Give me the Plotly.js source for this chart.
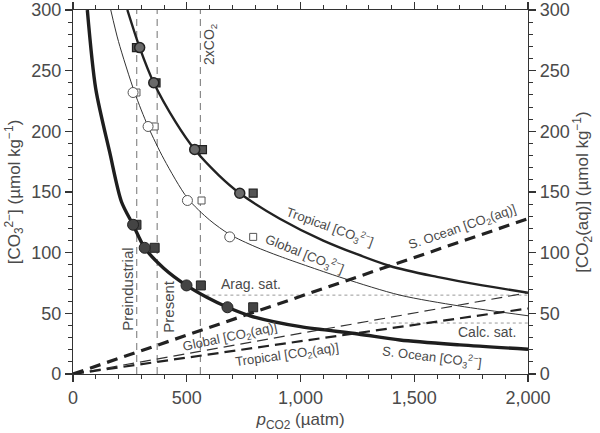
<!DOCTYPE html>
<html>
<head>
<meta charset="utf-8">
<script src="https://cdn.plot.ly/plotly-3.0.1.min.js"></script>
<style>html,body{margin:0;padding:0;background:#fff;}#chart{width:600px;height:433px;}</style>
</head>
<body>
<div id="chart"></div>
<script>
// ---- Data ----
// Carbonate ion curves (left axis)
const tropX = [239, 293, 355, 450, 535, 640, 733, 909, 1100, 1393, 1600, 1800, 2000];
const tropY = [300, 269, 240, 208, 185, 164, 149, 128, 110, 89, 80, 73, 67];
const globX = [166, 200, 271, 330, 400, 503, 600, 689, 800, 909, 1187, 1437, 1700, 2000];
const globY = [300, 274, 232, 204, 177, 145, 127, 115, 105, 97, 79, 65, 56, 48];
const socX = [63, 100, 161, 213, 264, 315, 400, 499, 590, 679, 778, 1000, 1253, 1437, 1700, 2000];
const socY = [300, 235, 183, 142, 123, 104, 87, 73, 63, 55, 48, 39, 33, 28, 24, 20.4];

// Model points (circles and squares)
const tropCircX = [293, 355, 535, 733], tropCircY = [269, 240, 185, 149];
const tropSqX = [279, 365, 569, 792], tropSqY = [269, 240, 185, 149];
const globCircX = [264, 330, 503, 689], globCircY = [232, 204, 143, 113];
const globSqX = [279, 359, 565, 792], globSqY = [232, 204, 143, 113];
const socCircX = [264, 315, 499, 679], socCircY = [123, 104, 73, 55];
const socSqX = [279, 359, 562, 792], socSqY = [123, 104, 73, 55];

// CO2(aq) lines (right axis)
const co2X = [0, 2000];
const co2SocY = [0, 128];
const co2GlobY = [0, 67];
const co2TropY = [0, 54];

// Reference levels
const scenarioX = [280, 370, 560];         // Preindustrial, Present, 2xCO2
const aragX = [560, 2000], aragY = [65, 65];
const calcX = [1300, 2000], calcY = [42, 42];

// Ticks
const xTickVals = [0, 500, 1000, 1500, 2000];
const xTickText = ['0', '500', '1,000', '1,500', '2,000'];
const yTickVals = [0, 50, 100, 150, 200, 250, 300];

const FONT = 'Liberation Sans, Arial, Helvetica, sans-serif';
const TXT = '#4a4a4a';

const traces = [];
// vertical scenario lines
scenarioX.forEach(v => traces.push({
  x: [v, v], y: [0, 300], mode: 'lines', xaxis: 'x', yaxis: 'y',
  line: {color: '#8a8a8a', width: 1.2, dash: '7px,5px'}, hoverinfo: 'skip', showlegend: false
}));
// saturation dotted lines
traces.push({x: aragX, y: aragY, mode: 'lines', line: {color: '#9a9a9a', width: 1, dash: 'dot'}, showlegend: false});
traces.push({x: calcX, y: calcY, mode: 'lines', line: {color: '#9a9a9a', width: 1, dash: 'dot'}, showlegend: false});
// CO2(aq) lines
traces.push({x: co2X, y: co2SocY, yaxis: 'y2', mode: 'lines', line: {color: '#222', width: 3.2, dash: '11px,7px'}, showlegend: false});
traces.push({x: co2X, y: co2GlobY, yaxis: 'y2', mode: 'lines', line: {color: '#333', width: 1.2, dash: '11px,6px'}, showlegend: false});
traces.push({x: co2X, y: co2TropY, yaxis: 'y2', mode: 'lines', line: {color: '#222', width: 2.2, dash: '11px,6px'}, showlegend: false});
// CO3 curves
traces.push({x: tropX, y: tropY, mode: 'lines', line: {color: '#222', width: 2.4, shape: 'spline', smoothing: 0.8}, showlegend: false});
traces.push({x: globX, y: globY, mode: 'lines', line: {color: '#333', width: 1, shape: 'spline', smoothing: 0.8}, showlegend: false});
traces.push({x: socX, y: socY, mode: 'lines', line: {color: '#1e1e1e', width: 3.4, shape: 'spline', smoothing: 0.8}, showlegend: false});
// markers
traces.push({x: tropSqX, y: tropSqY, mode: 'markers', marker: {symbol: 'square', size: 8, color: '#555', line: {color: '#222', width: 1.2}}, showlegend: false});
traces.push({x: tropCircX, y: tropCircY, mode: 'markers', marker: {symbol: 'circle', size: 10, color: '#6a6a6a', line: {color: '#222', width: 1.5}}, showlegend: false});
traces.push({x: globSqX, y: globSqY, mode: 'markers', marker: {symbol: 'square', size: 7, color: '#fff', line: {color: '#555', width: 1}}, showlegend: false});
traces.push({x: globCircX, y: globCircY, mode: 'markers', marker: {symbol: 'circle', size: 10, color: '#fff', line: {color: '#555', width: 1}}, showlegend: false});
traces.push({x: socSqX, y: socSqY, mode: 'markers', marker: {symbol: 'square', size: 9, color: '#444', line: {color: '#222', width: 1}}, showlegend: false});
traces.push({x: socCircX, y: socCircY, mode: 'markers', marker: {symbol: 'circle', size: 11, color: '#444', line: {color: '#222', width: 1}}, showlegend: false});

function ann(text, x, y, angle, size) {
  return {text: text, x: x, y: y, xref: 'x', yref: 'y', showarrow: false, textangle: angle || 0,
          font: {family: FONT, size: size || 13, color: TXT}, xanchor: 'center', yanchor: 'middle'};
}

const CO3 = '[CO<sub>3</sub><sup>2−</sup>]';
const CO2aq = '[CO<sub>2</sub>(aq)]';

const yAxisCommon = {
  range: [0, 300], tickvals: yTickVals,
  showline: true, linecolor: '#333', linewidth: 1.2,
  ticks: 'outside', ticklen: 7, tickcolor: '#333', tickwidth: 1.2,
  minor: {dtick: 10, ticks: 'outside', ticklen: 4, tickcolor: '#333', tickwidth: 1},
  showgrid: false, zeroline: false, ticklabeloverflow: 'allow',
  tickfont: {family: FONT, size: 18, color: TXT}
};

const layout = {
  width: 600, height: 433,
  margin: {l: 73, r: 72, t: 10, b: 59},
  paper_bgcolor: '#fff', plot_bgcolor: '#fff',
  font: {family: FONT, color: TXT},
  xaxis: {
    range: [0, 2000], tickvals: xTickVals, ticktext: xTickText,
    showline: true, linecolor: '#333', linewidth: 1.2, mirror: 'ticks',
    ticks: 'outside', ticklen: 7, tickcolor: '#333', tickwidth: 1.2,
    minor: {dtick: 100, ticks: 'outside', ticklen: 4, tickcolor: '#333', tickwidth: 1},
    showgrid: false, zeroline: false, ticklabeloverflow: 'allow',
    tickfont: {family: FONT, size: 18, color: TXT},
    title: {text: '<i>p</i><sub>CO2</sub> (µatm)', font: {family: FONT, size: 17, color: TXT}, standoff: 6}
  },
  yaxis: Object.assign({}, yAxisCommon, {
    title: {text: CO3 + ' (µmol kg<sup>−1</sup>)', font: {family: FONT, size: 17, color: TXT}, standoff: 6}
  }),
  yaxis2: Object.assign({}, yAxisCommon, {
    overlaying: 'y', side: 'right',
    title: {text: CO2aq + ' (µmol kg<sup>−1</sup>)', font: {family: FONT, size: 17, color: TXT}, standoff: 6}
  }),
  annotations: [
    ann('Preindustrial', 236, 70, -90, 15),
    ann('Present', 416, 56, -90, 15),
    ann('2xCO<sub>2</sub>', 602, 272, -90, 14),
    ann('Tropical ' + CO3, 1130, 121, 20, 13),
    ann('Global ' + CO3, 1018, 99, 22, 13),
    ann('S. Ocean ' + CO2aq, 1714, 121, -19, 13),
    ann('Arag. sat.', 782, 74, 0, 14),
    ann('Calc. sat.', 1819, 35, 0, 14),
    ann('Global ' + CO2aq, 690, 30, -12, 13),
    ann('Tropical ' + CO2aq, 940, 15, -8, 13),
    ann('S. Ocean ' + CO3, 1577, 14, 7, 13)
  ],
  showlegend: false
};

Plotly.newPlot('chart', traces, layout, {displayModeBar: false, staticPlot: true});
</script>
</body>
</html>
